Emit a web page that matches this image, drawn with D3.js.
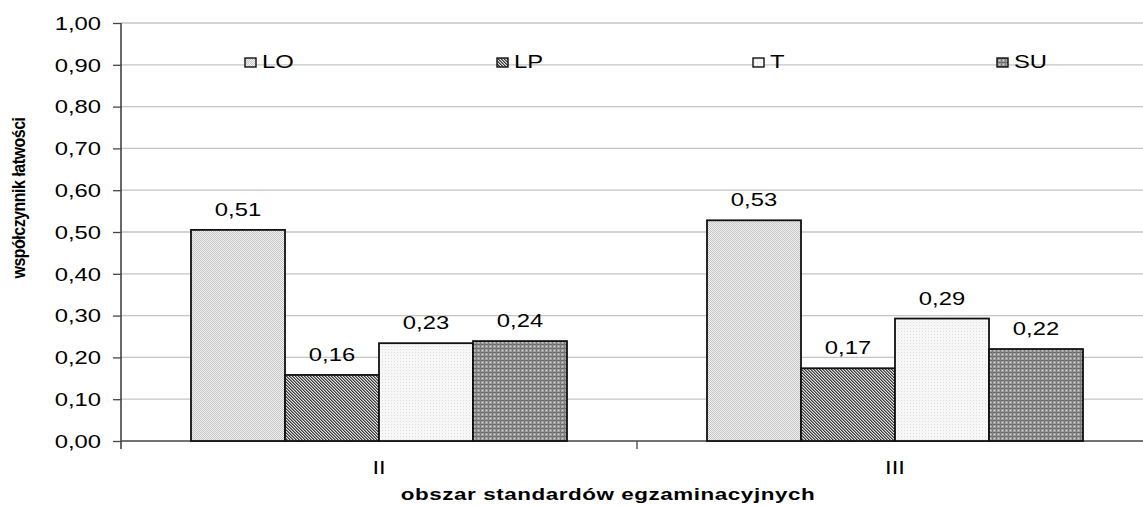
<!DOCTYPE html>
<html><head><meta charset="utf-8">
<script src="https://cdn.jsdelivr.net/npm/d3@7"></script>
<style>body{margin:0;background:#fff}svg{display:block;font-family:"Liberation Sans",Arial,sans-serif}</style>
</head><body><svg id="c" width="1143" height="506"></svg>
<script>
const categories = ["II", "III"];
const seriesNames = ["LO", "LP", "T", "SU"];
const LO = [0.505, 0.528];
const LP = [0.158, 0.174];
const T  = [0.234, 0.293];
const SU = [0.239, 0.220];
const labels = {LO:["0,51","0,53"], LP:["0,16","0,17"], T:["0,23","0,29"], SU:["0,24","0,22"]};
const yTicks = [0,0.1,0.2,0.3,0.4,0.5,0.6,0.7,0.8,0.9,1.0];
const series = {LO, LP, T, SU};

const SX = 1.36;   // horizontal stretch of text glyphs
const FS = 17.5;

const svg = d3.select("#c");
const defs = svg.append("defs");
// LO: fine light checker
let p = defs.append("pattern").attr("id","pLO").attr("width",2).attr("height",2).attr("patternUnits","userSpaceOnUse");
p.append("rect").attr("width",2).attr("height",2).attr("fill","#f2f2f2");
p.append("rect").attr("width",1).attr("height",1).attr("fill","#c4c4c4");
p.append("rect").attr("x",1).attr("y",1).attr("width",1).attr("height",1).attr("fill","#c4c4c4");
// LP: diagonal hatch (\)
p = defs.append("pattern").attr("id","pLP").attr("width",3).attr("height",3).attr("patternUnits","userSpaceOnUse");
p.append("rect").attr("width",3).attr("height",3).attr("fill","#e4e4e4");
p.append("rect").attr("x",0).attr("y",0).attr("width",1).attr("height",1).attr("fill","#3a3a3a");
p.append("rect").attr("x",1).attr("y",1).attr("width",1).attr("height",1).attr("fill","#3a3a3a");
p.append("rect").attr("x",2).attr("y",2).attr("width",1).attr("height",1).attr("fill","#3a3a3a");
p.append("rect").attr("x",1).attr("y",0).attr("width",1).attr("height",1).attr("fill","#888");
p.append("rect").attr("x",2).attr("y",1).attr("width",1).attr("height",1).attr("fill","#888");
p.append("rect").attr("x",0).attr("y",2).attr("width",1).attr("height",1).attr("fill","#888");
// T: very light dots
p = defs.append("pattern").attr("id","pT").attr("width",3).attr("height",3).attr("patternUnits","userSpaceOnUse");
p.append("rect").attr("width",3).attr("height",3).attr("fill","#f7f7f7");
p.append("rect").attr("x",1).attr("y",1).attr("width",1).attr("height",1).attr("fill","#dddddd");
// SU: grid
p = defs.append("pattern").attr("id","pSU").attr("width",4).attr("height",4).attr("patternUnits","userSpaceOnUse");
p.append("rect").attr("width",4).attr("height",4).attr("fill","#a0a0a0");
p.append("rect").attr("x",0).attr("y",0).attr("width",4).attr("height",1).attr("fill","#6a6a6a");
p.append("rect").attr("x",0).attr("y",0).attr("width",1).attr("height",4).attr("fill","#7a7a7a");
p.append("rect").attr("x",2).attr("y",2).attr("width",1).attr("height",1).attr("fill","#d4d4d4");
const fills = {LO:"url(#pLO)", LP:"url(#pLP)", T:"url(#pT)", SU:"url(#pSU)"};

const x0 = 121, x1 = 1153, yTop = 23, yBot = 441;
const x = d3.scaleBand().domain(categories).range([x0, x1]).paddingInner(0).paddingOuter(0);
const y = d3.scaleLinear().domain([0,1]).range([yBot, yTop]);
const inner = d3.scaleBand().domain(seriesNames).range([0, 376]);
const groupOffset = (x.bandwidth() - 376)/2;

// gridlines
svg.append("g").selectAll("line").data(yTicks.filter(d=>d>0)).join("line")
  .attr("x1", x0).attr("x2", 1143).attr("y1", d=>y(d)).attr("y2", d=>y(d))
  .attr("stroke","#c4c4c4").attr("stroke-width",1.3);

// y axis
const yAxis = d3.axisLeft(y).tickValues(yTicks).tickSize(8)
  .tickFormat(d => d3.format(".2f")(d).replace(".", ","));
const gy = svg.append("g").attr("transform",`translate(${x0},0)`).call(yAxis);
gy.select(".domain").attr("stroke","#444").attr("stroke-width",1.6).attr("d",`M0,${yBot+8}V${yTop}`);
gy.selectAll(".tick line").attr("stroke","#444").attr("stroke-width",1.3);
gy.selectAll(".tick text").attr("font-size",FS).attr("fill","#000")
  .attr("font-family","Liberation Sans, Arial, sans-serif")
  .attr("x", -20/SX).attr("dy","0.36em").attr("transform",`scale(${SX},1)`);

// x axis
const xAxis = d3.axisBottom(x).tickSize(0).tickPadding(0);
const gx = svg.append("g").attr("transform",`translate(0,${yBot})`).call(xAxis);
gx.select(".domain").attr("stroke","#444").attr("stroke-width",1.6).attr("d",`M${x0},0H1143`);
gx.selectAll(".tick text").attr("font-size",FS).attr("fill","#000")
  .attr("font-family","Liberation Sans, Arial, sans-serif")
  .attr("y",33).attr("dy",0).attr("transform",`scale(${SX},1)`);
// category separators
svg.append("g").selectAll("line").data(categories.slice(1)).join("line")
  .attr("x1", d=>x(d)).attr("x2", d=>x(d)).attr("y1", yBot).attr("y2", yBot+8)
  .attr("stroke","#444").attr("stroke-width",1.3);

// bars
const bars = [];
categories.forEach((c,i)=>seriesNames.forEach(s=>bars.push({c, s, v: series[s][i], lab: labels[s][i]})));
svg.append("g").selectAll("rect").data(bars).join("rect")
  .attr("x", d=>x(d.c)+groupOffset+inner(d.s))
  .attr("y", d=>y(d.v))
  .attr("width", inner.bandwidth())
  .attr("height", d=>yBot - y(d.v))
  .attr("fill", d=>fills[d.s]).attr("stroke","#111").attr("stroke-width",1.8);
svg.append("g").selectAll("text").data(bars).join("text")
  .attr("transform", d=>`translate(${x(d.c)+groupOffset+inner(d.s)+inner.bandwidth()/2},${y(d.v)-14}) scale(${SX},1)`)
  .attr("text-anchor","middle").attr("font-size",FS).attr("fill","#000")
  .text(d=>d.lab);

// legend
const legX = {LO:245, LP:497, T:753, SU:997};
const lg = svg.append("g").selectAll("g").data(seriesNames).join("g")
  .attr("transform", d=>`translate(${legX[d]},58)`);
lg.append("rect").attr("width",11).attr("height",9).attr("fill",d=>fills[d]).attr("stroke","#111").attr("stroke-width",1.4);
lg.append("text").attr("transform",`translate(17,9.5) scale(${SX},1)`).attr("font-size",FS).attr("fill","#000").text(d=>d);

// titles
svg.append("text").attr("transform",`translate(25,198) scale(1.15,1) rotate(-90)`).attr("text-anchor","middle")
  .attr("font-size",16).attr("font-weight","bold").attr("letter-spacing","-0.5").text("współczynnik łatwości");
svg.append("text").attr("transform",`translate(608,500) scale(${SX},1)`).attr("text-anchor","middle")
  .attr("font-size",16.5).attr("font-weight","bold").attr("letter-spacing","0.4").text("obszar standardów egzaminacyjnych");
</script></body></html>
